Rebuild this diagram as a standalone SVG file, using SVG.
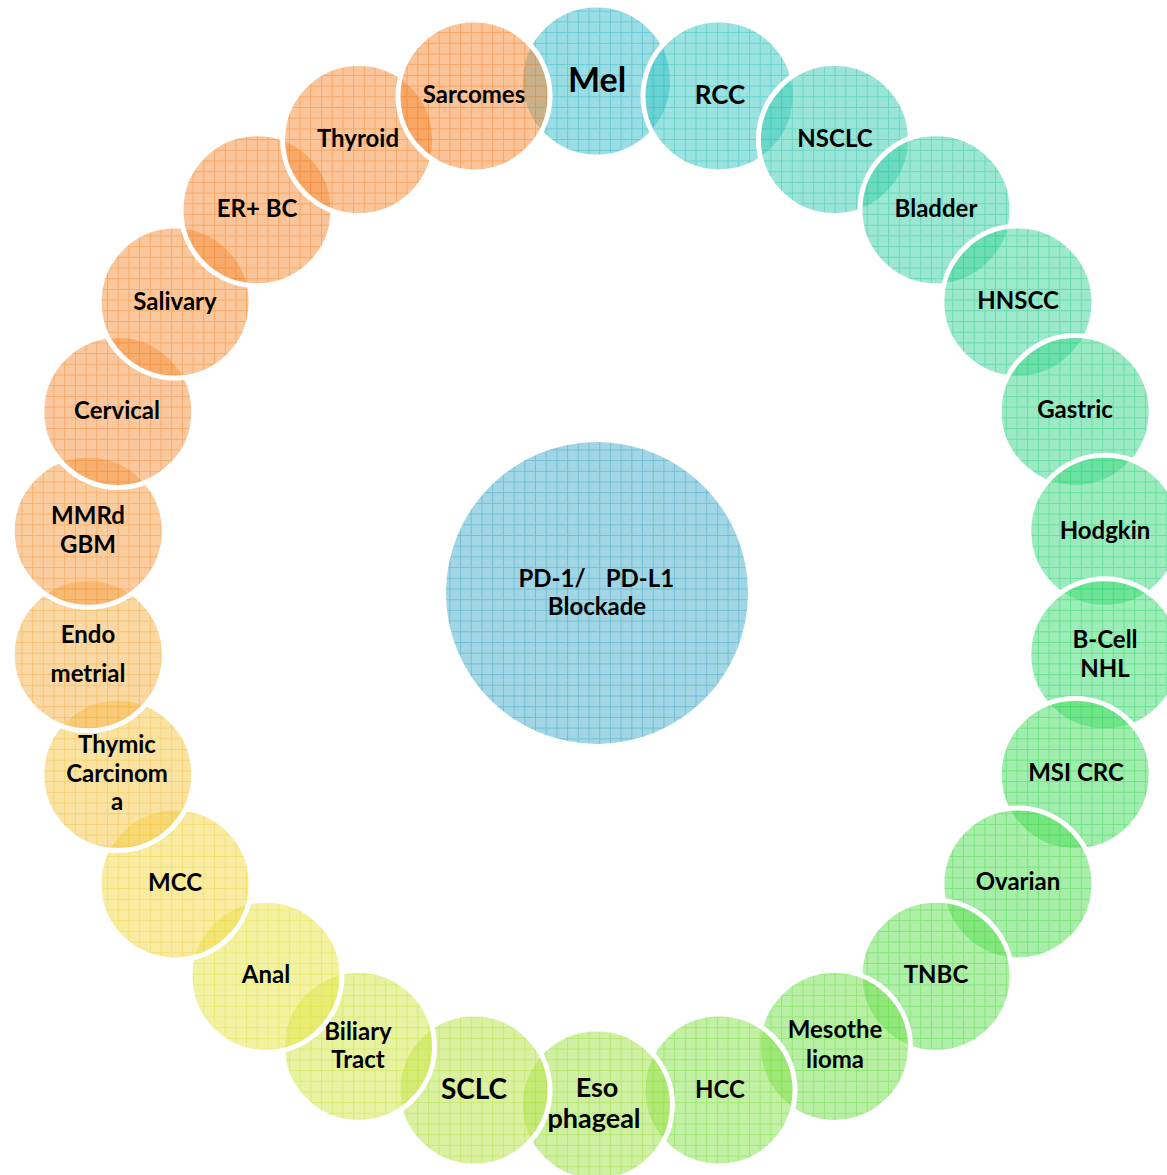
<svg xmlns="http://www.w3.org/2000/svg" width="1167" height="1175" viewBox="0 0 1167 1175">
<defs>
<style>
.f{fill-opacity:0.78}
.r{fill:none;stroke:#fff;stroke-width:5}
.t{font-family:Lato,"Open Sans","Liberation Sans",sans-serif;font-weight:700;font-size:24px;fill:#000;text-anchor:middle}
</style>
<pattern id="grid" patternUnits="userSpaceOnUse" width="10.7" height="10.7">
<rect width="10.7" height="10.7" fill="#fff" fill-opacity="0.66"/>
<path d="M0 0.5H10.7M0.5 0V10.7" stroke="#fff" stroke-width="1"/>
</pattern>
<mask id="m" maskUnits="userSpaceOnUse" x="0" y="0" width="1167" height="1175">
<rect width="1167" height="1175" fill="url(#grid)"/>
</mask>
</defs>
<rect width="1167" height="1175" fill="#fff"/>
<g id="connectors"/>
<g id="n-mel"><circle class="f" cx="596.5" cy="81" r="76" fill="#3cbccb" mask="url(#m)"/><circle class="r" cx="596.5" cy="81" r="76"/><text class="t" x="597" y="92" style="font-size:34px">Mel</text></g>
<g id="n-rcc"><circle class="f" cx="719" cy="95.9" r="76" fill="#3cc8c4" mask="url(#m)"/><circle class="r" cx="719" cy="95.9" r="76"/><text class="t" x="720" y="104" style="font-size:26px">RCC</text></g>
<g id="n-nsclc"><circle class="f" cx="834.4" cy="139.6" r="76" fill="#3ccdb4" mask="url(#m)"/><circle class="r" cx="834.4" cy="139.6" r="76"/><text class="t" x="835" y="147">NSCLC</text></g>
<g id="n-bladder"><circle class="f" cx="936" cy="209.8" r="76" fill="#3dd0a6" mask="url(#m)"/><circle class="r" cx="936" cy="209.8" r="76"/><text class="t" x="936" y="217">Bladder</text></g>
<g id="n-hnscc"><circle class="f" cx="1017.9" cy="302.1" r="76" fill="#3dd49a" mask="url(#m)"/><circle class="r" cx="1017.9" cy="302.1" r="76"/><text class="t" x="1018" y="309">HNSCC</text></g>
<g id="n-gastric"><circle class="f" cx="1075.2" cy="411.4" r="76" fill="#3dd68c" mask="url(#m)"/><circle class="r" cx="1075.2" cy="411.4" r="76"/><text class="t" x="1075" y="418">Gastric</text></g>
<g id="n-hodgkin"><circle class="f" cx="1104.8" cy="531.3" r="76" fill="#3dd880" mask="url(#m)"/><circle class="r" cx="1104.8" cy="531.3" r="76"/><text class="t" x="1105" y="539">Hodgkin</text></g>
<g id="n-bcell"><circle class="f" cx="1104.8" cy="654.7" r="76" fill="#3ddb72" mask="url(#m)"/><circle class="r" cx="1104.8" cy="654.7" r="76"/><text class="t" x="1105" y="648">B-Cell</text><text class="t" x="1105" y="677">NHL</text></g>
<g id="n-msicrc"><circle class="f" cx="1075.2" cy="774.6" r="76" fill="#45dc62" mask="url(#m)"/><circle class="r" cx="1075.2" cy="774.6" r="76"/><text class="t" x="1076" y="781">MSI CRC</text></g>
<g id="n-ovarian"><circle class="f" cx="1017.9" cy="883.9" r="76" fill="#55de58" mask="url(#m)"/><circle class="r" cx="1017.9" cy="883.9" r="76"/><text class="t" x="1018" y="890">Ovarian</text></g>
<g id="n-tnbc"><circle class="f" cx="936" cy="976.2" r="76" fill="#63df55" mask="url(#m)"/><circle class="r" cx="936" cy="976.2" r="76"/><text class="t" x="936" y="983">TNBC</text></g>
<g id="n-meso"><circle class="f" cx="834.4" cy="1046.4" r="76" fill="#75e050" mask="url(#m)"/><circle class="r" cx="834.4" cy="1046.4" r="76"/><text class="t" x="835" y="1038">Mesothe</text><text class="t" x="835" y="1068">lioma</text></g>
<g id="n-hcc"><circle class="f" cx="719" cy="1090.1" r="76" fill="#88e14e" mask="url(#m)"/><circle class="r" cx="719" cy="1090.1" r="76"/><text class="t" x="720" y="1098">HCC</text></g>
<g id="n-eso"><circle class="f" cx="596.5" cy="1105" r="76" fill="#a2e24c" mask="url(#m)"/><circle class="r" cx="596.5" cy="1105" r="76"/><text class="t" x="597" y="1097" style="font-size:27px">Eso</text><text class="t" x="594" y="1128" style="font-size:27px">phageal</text></g>
<g id="n-sclc"><circle class="f" cx="474" cy="1090.1" r="76" fill="#b8e44a" mask="url(#m)"/><circle class="r" cx="474" cy="1090.1" r="76"/><text class="t" x="474" y="1099" style="font-size:28px">SCLC</text></g>
<g id="n-biliary"><circle class="f" cx="358.6" cy="1046.4" r="76" fill="#d0e64a" mask="url(#m)"/><circle class="r" cx="358.6" cy="1046.4" r="76"/><text class="t" x="358" y="1040">Biliary</text><text class="t" x="358" y="1068">Tract</text></g>
<g id="n-anal"><circle class="f" cx="266" cy="976.2" r="76" fill="#e8e64a" mask="url(#m)"/><circle class="r" cx="266" cy="976.2" r="76"/><text class="t" x="266" y="983">Anal</text></g>
<g id="n-mcc"><circle class="f" cx="175.1" cy="883.9" r="76" fill="#f2d848" mask="url(#m)"/><circle class="r" cx="175.1" cy="883.9" r="76"/><text class="t" x="175" y="891">MCC</text></g>
<g id="n-thymic"><circle class="f" cx="117.8" cy="774.6" r="76" fill="#f5c84a" mask="url(#m)"/><circle class="r" cx="117.8" cy="774.6" r="76"/><text class="t" x="117" y="753">Thymic</text><text class="t" x="117" y="782">Carcinom</text><text class="t" x="117" y="810">a</text></g>
<g id="n-endo"><circle class="f" cx="88.2" cy="654.7" r="76" fill="#f6b24c" mask="url(#m)"/><circle class="r" cx="88.2" cy="654.7" r="76"/><text class="t" x="88" y="643">Endo</text><text class="t" x="88" y="682">metrial</text></g>
<g id="n-mmrd"><circle class="f" cx="88.2" cy="531.3" r="76" fill="#f69e46" mask="url(#m)"/><circle class="r" cx="88.2" cy="531.3" r="76"/><text class="t" x="88" y="524">MMRd</text><text class="t" x="88" y="553">GBM</text></g>
<g id="n-cervical"><circle class="f" cx="117.8" cy="411.4" r="76" fill="#f69442" mask="url(#m)"/><circle class="r" cx="117.8" cy="411.4" r="76"/><text class="t" x="117" y="419">Cervical</text></g>
<g id="n-salivary"><circle class="f" cx="175.1" cy="302.1" r="76" fill="#f6943e" mask="url(#m)"/><circle class="r" cx="175.1" cy="302.1" r="76"/><text class="t" x="175" y="310">Salivary</text></g>
<g id="n-erbc"><circle class="f" cx="257" cy="209.8" r="76" fill="#f68e3a" mask="url(#m)"/><circle class="r" cx="257" cy="209.8" r="76"/><text class="t" x="257" y="217">ER+ BC</text></g>
<g id="n-thyroid"><circle class="f" cx="358.6" cy="139.6" r="76" fill="#f68e3a" mask="url(#m)"/><circle class="r" cx="358.6" cy="139.6" r="76"/><text class="t" x="358" y="147">Thyroid</text></g>
<g id="n-sarcomes"><circle class="f" cx="474" cy="95.9" r="76" fill="#f68a36" mask="url(#m)"/><circle class="r" cx="474" cy="95.9" r="76"/><text class="t" x="474" y="103">Sarcomes</text></g>
<g id="n-center"><circle class="f" cx="597" cy="593" r="151" fill="#4aaecb" mask="url(#m)"/><text class="t" y="587"><tspan x="552">PD-1/</tspan><tspan x="640">PD-L1</tspan></text><text class="t" x="597" y="615">Blockade</text></g>
</svg>
